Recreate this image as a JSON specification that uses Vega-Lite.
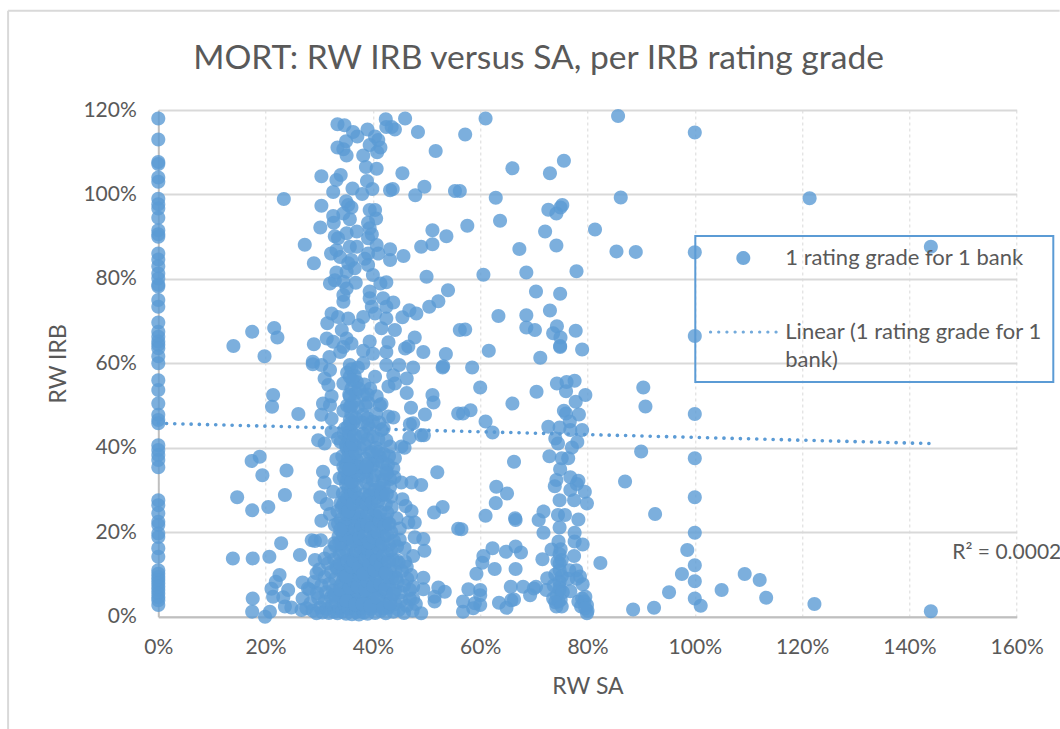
{"$schema":"https://vega.github.io/schema/vega-lite/v6.json","width":858.4,"height":506.7,"autosize":{"type":"none"},"padding":{"left":158.3,"top":110,"right":43.3,"bottom":112.3},"background":"white","config":{"font":"Lato","view":{"stroke":null},"legend":{"strokeWidth":2},"style":{"guide-label":{"lineHeight":28}}},"title":{"text":"MORT: RW IRB versus SA, per IRB rating grade","font":"Lato","fontSize":33.6,"fontWeight":"normal","color":"#595959","anchor":"start","frame":"group","dx":35,"offset":-66},"layer":[{"data":{"values":[{}]},"mark":{"type":"rule","color":"#D9D9D9","strokeWidth":2},"encoding":{"x":{"datum":-28,"type":"quantitative"},"y":{"datum":143.5,"type":"quantitative"},"y2":{"datum":-26.6}}},{"data":{"values":[{}]},"mark":{"type":"rule","color":"#D9D9D9","strokeWidth":2},"encoding":{"y":{"datum":143.5,"type":"quantitative"},"x":{"datum":-28,"type":"quantitative"},"x2":{"datum":168}}},{"data":{"values":[{"sa":0,"irb":118},{"sa":0,"irb":113},{"sa":0,"irb":107.7},{"sa":0,"irb":107.2},{"sa":0,"irb":104},{"sa":0,"irb":103},{"sa":0,"irb":99},{"sa":0,"irb":97.7},{"sa":0,"irb":96.7},{"sa":0,"irb":94.5},{"sa":0,"irb":91.5},{"sa":0,"irb":90.6},{"sa":0,"irb":90},{"sa":0,"irb":86},{"sa":0,"irb":84.6},{"sa":0,"irb":83},{"sa":0,"irb":81.3},{"sa":0,"irb":80.1},{"sa":0,"irb":78.6},{"sa":0,"irb":78.2},{"sa":0,"irb":75},{"sa":0,"irb":73.4},{"sa":0,"irb":69.7},{"sa":0,"irb":67.5},{"sa":0,"irb":66.3},{"sa":0,"irb":65.2},{"sa":0,"irb":64.4},{"sa":0,"irb":63.6},{"sa":0,"irb":61.7},{"sa":0,"irb":60},{"sa":0,"irb":56},{"sa":0,"irb":53.7},{"sa":0,"irb":50.5},{"sa":0,"irb":47.8},{"sa":0,"irb":46.6},{"sa":0,"irb":45.8},{"sa":0,"irb":40.6},{"sa":0,"irb":39.5},{"sa":0,"irb":38.3},{"sa":0,"irb":37.1},{"sa":0,"irb":35.4},{"sa":0,"irb":27.6},{"sa":0,"irb":26.4},{"sa":0,"irb":24.5},{"sa":0,"irb":22.5},{"sa":0,"irb":21.7},{"sa":0,"irb":19.7},{"sa":0,"irb":18.9},{"sa":0,"irb":16.2},{"sa":0,"irb":14.2},{"sa":0,"irb":11},{"sa":0,"irb":10.2},{"sa":0,"irb":9.4},{"sa":0,"irb":8.7},{"sa":0,"irb":7.9},{"sa":0,"irb":7.1},{"sa":0,"irb":6.3},{"sa":0,"irb":5.5},{"sa":0,"irb":4.6},{"sa":0,"irb":3.9},{"sa":0,"irb":2.8},{"sa":42.4,"irb":117.8},{"sa":46,"irb":118},{"sa":33.4,"irb":116.6},{"sa":34.7,"irb":116.4},{"sa":42.5,"irb":116},{"sa":43.5,"irb":116},{"sa":44.1,"irb":115.4},{"sa":48.4,"irb":114.8},{"sa":36.3,"irb":114.8},{"sa":39,"irb":115.4},{"sa":35,"irb":112.6},{"sa":37.1,"irb":113.7},{"sa":40.4,"irb":113.7},{"sa":41,"irb":112.9},{"sa":41.4,"irb":111.1},{"sa":39.4,"irb":111.7},{"sa":40.8,"irb":110},{"sa":51.7,"irb":110.3},{"sa":33.4,"irb":111.1},{"sa":34.5,"irb":110.7},{"sa":35.1,"irb":109.2},{"sa":38.2,"irb":109.2},{"sa":38.7,"irb":106.5},{"sa":40.7,"irb":106.1},{"sa":30.4,"irb":104.3},{"sa":34,"irb":104.6},{"sa":33.2,"irb":103.4},{"sa":45.5,"irb":105},{"sa":38.9,"irb":103.2},{"sa":49.6,"irb":101.8},{"sa":36.2,"irb":101.4},{"sa":39.9,"irb":101.3},{"sa":43.2,"irb":101},{"sa":43.7,"irb":101.3},{"sa":32.6,"irb":100.6},{"sa":38,"irb":100.1},{"sa":47.9,"irb":99.8},{"sa":55.3,"irb":100.8},{"sa":23.4,"irb":98.9},{"sa":30.4,"irb":97.3},{"sa":35,"irb":98.4},{"sa":35.4,"irb":97.5},{"sa":36,"irb":96.9},{"sa":39.4,"irb":96.3},{"sa":40.4,"irb":96.3},{"sa":40.6,"irb":94.3},{"sa":32.6,"irb":94.9},{"sa":34.5,"irb":95.5},{"sa":32.7,"irb":93.3},{"sa":35.7,"irb":94.1},{"sa":39.1,"irb":93.3},{"sa":30.2,"irb":92.2},{"sa":51.1,"irb":91.5},{"sa":53.7,"irb":90.1},{"sa":51.1,"irb":88.2},{"sa":49,"irb":87.6},{"sa":37,"irb":91.2},{"sa":32.9,"irb":90.1},{"sa":35.1,"irb":90.8},{"sa":39.4,"irb":92},{"sa":39.8,"irb":90.6},{"sa":39.1,"irb":89.6},{"sa":27.3,"irb":88.1},{"sa":33.5,"irb":89.6},{"sa":37,"irb":87.6},{"sa":35.7,"irb":87.6},{"sa":40.7,"irb":88},{"sa":43.2,"irb":87},{"sa":41,"irb":86},{"sa":33.2,"irb":86.8},{"sa":32.2,"irb":86},{"sa":33.9,"irb":85.2},{"sa":45.7,"irb":85.4},{"sa":43.2,"irb":84.5},{"sa":39.1,"irb":86},{"sa":38.5,"irb":84.8},{"sa":29,"irb":83.7},{"sa":36,"irb":84.5},{"sa":39.1,"irb":83.3},{"sa":35.4,"irb":83.7},{"sa":36.6,"irb":82.5},{"sa":33.2,"irb":81.5},{"sa":35.1,"irb":81.7},{"sa":40,"irb":80.9},{"sa":50,"irb":80.5},{"sa":32.9,"irb":79.7},{"sa":42.5,"irb":79.2},{"sa":41.4,"irb":78.9},{"sa":32,"irb":78.9},{"sa":36.8,"irb":79.1},{"sa":34.5,"irb":79.3},{"sa":54,"irb":77.3},{"sa":35.1,"irb":77.7},{"sa":39.4,"irb":77},{"sa":34.5,"irb":76.2},{"sa":52.2,"irb":74.7},{"sa":50.5,"irb":73.4},{"sa":39.4,"irb":75.4},{"sa":41.9,"irb":75.4},{"sa":43.8,"irb":74.4},{"sa":42.5,"irb":73.4},{"sa":34.5,"irb":74.6},{"sa":39.8,"irb":73.4},{"sa":46.8,"irb":72.6},{"sa":48.1,"irb":71.8},{"sa":45.5,"irb":70.9},{"sa":42.5,"irb":70.6},{"sa":32.3,"irb":71.8},{"sa":35.4,"irb":70.6},{"sa":38.2,"irb":71},{"sa":40.4,"irb":71.8},{"sa":31.5,"irb":69.5},{"sa":33.5,"irb":71},{"sa":34.2,"irb":67.9},{"sa":37.3,"irb":69},{"sa":44.1,"irb":67.9},{"sa":41.6,"irb":68.3},{"sa":17.5,"irb":67.5},{"sa":21.6,"irb":68.4},{"sa":22.2,"irb":66.1},{"sa":14,"irb":64.1},{"sa":31.4,"irb":65.9},{"sa":29,"irb":64.5},{"sa":47.8,"irb":66.1},{"sa":46.6,"irb":64},{"sa":39.4,"irb":65.2},{"sa":35.1,"irb":65.9},{"sa":34.5,"irb":63.9},{"sa":42.9,"irb":65},{"sa":38.2,"irb":63},{"sa":49.4,"irb":62.7},{"sa":53.6,"irb":62.2},{"sa":19.8,"irb":61.7},{"sa":46,"irb":63.5},{"sa":32.6,"irb":65.1},{"sa":36,"irb":64.7},{"sa":40,"irb":62.3},{"sa":42.5,"irb":62.7},{"sa":33.9,"irb":62.7},{"sa":31.9,"irb":61.5},{"sa":28.8,"irb":60.4},{"sa":56.2,"irb":67.9},{"sa":28.8,"irb":59.8},{"sa":30.4,"irb":59.6},{"sa":32,"irb":58.4},{"sa":35.7,"irb":59.6},{"sa":38.2,"irb":60},{"sa":42.5,"irb":59.6},{"sa":44.9,"irb":59.6},{"sa":47.5,"irb":59},{"sa":53,"irb":59},{"sa":53.1,"irb":59.3},{"sa":31,"irb":56.4},{"sa":31.7,"irb":54.9},{"sa":35.7,"irb":56.8},{"sa":37,"irb":55.6},{"sa":34.5,"irb":55.2},{"sa":40.4,"irb":56.8},{"sa":43.8,"irb":57.2},{"sa":46.3,"irb":56.4},{"sa":42.9,"irb":54.5},{"sa":44.1,"irb":55.2},{"sa":46.3,"irb":53},{"sa":51.1,"irb":52.5},{"sa":51.3,"irb":50.7},{"sa":21.4,"irb":52.5},{"sa":21.2,"irb":49.7},{"sa":26.1,"irb":48},{"sa":49.7,"irb":47.9},{"sa":47.1,"irb":49.5},{"sa":30.7,"irb":50.5},{"sa":32.3,"irb":52.2},{"sa":32,"irb":50.1},{"sa":40.7,"irb":52.2},{"sa":38.2,"irb":52.5},{"sa":35.7,"irb":52.2},{"sa":39.1,"irb":50.7},{"sa":41.3,"irb":50.1},{"sa":35.7,"irb":49.7},{"sa":34.5,"irb":48.8},{"sa":30.4,"irb":47.8},{"sa":32.3,"irb":46.9},{"sa":42.9,"irb":47.4},{"sa":43.8,"irb":47.2},{"sa":38.2,"irb":47.8},{"sa":35.7,"irb":46.6},{"sa":46.9,"irb":45.6},{"sa":47.5,"irb":45.8},{"sa":39.1,"irb":45.4},{"sa":55.9,"irb":48.1},{"sa":49,"irb":43},{"sa":49.5,"irb":43},{"sa":46.8,"irb":42.4},{"sa":41.6,"irb":44.2},{"sa":34.8,"irb":44.6},{"sa":32.3,"irb":43.8},{"sa":29.8,"irb":41.8},{"sa":31,"irb":41},{"sa":33.5,"irb":42.2},{"sa":38.2,"irb":43.4},{"sa":40,"irb":42.6},{"sa":42.5,"irb":41.8},{"sa":45.9,"irb":40},{"sa":45.3,"irb":40.3},{"sa":35.1,"irb":39.9},{"sa":37.6,"irb":39.9},{"sa":43.2,"irb":40.3},{"sa":39.8,"irb":39.1},{"sa":41.3,"irb":37.9},{"sa":44.1,"irb":37.5},{"sa":33.2,"irb":37.3},{"sa":35.7,"irb":37.1},{"sa":39.1,"irb":36.3},{"sa":43.8,"irb":35.1},{"sa":42.5,"irb":34.7},{"sa":38.8,"irb":34.7},{"sa":34.5,"irb":35.5},{"sa":52,"irb":34.2},{"sa":17.4,"irb":36.9},{"sa":18.9,"irb":37.9},{"sa":19.4,"irb":33.5},{"sa":23.9,"irb":34.6},{"sa":30.7,"irb":34.3},{"sa":31,"irb":31.8},{"sa":33.8,"irb":32.8},{"sa":35.7,"irb":32.8},{"sa":40.4,"irb":33.5},{"sa":38.8,"irb":33.1},{"sa":41.9,"irb":32.4},{"sa":43.2,"irb":30.8},{"sa":45.3,"irb":31.8},{"sa":47.2,"irb":31.8},{"sa":49,"irb":31.2},{"sa":32.6,"irb":29.6},{"sa":35.4,"irb":30.4},{"sa":39.4,"irb":30.4},{"sa":41.3,"irb":29.6},{"sa":14.7,"irb":28.3},{"sa":23.6,"irb":28.8},{"sa":30.2,"irb":28.3},{"sa":31.4,"irb":26.7},{"sa":34.5,"irb":26.8},{"sa":35.7,"irb":27.6},{"sa":39.4,"irb":28.8},{"sa":41.9,"irb":28.8},{"sa":45.5,"irb":27.8},{"sa":46.1,"irb":26.2},{"sa":47.2,"irb":25},{"sa":43.5,"irb":25.9},{"sa":53,"irb":26},{"sa":51.4,"irb":24.7},{"sa":20.5,"irb":26},{"sa":17.5,"irb":25.2},{"sa":32,"irb":24.3},{"sa":30.4,"irb":22.7},{"sa":44.4,"irb":23.3},{"sa":47.8,"irb":22.3},{"sa":46.6,"irb":22.3},{"sa":55.9,"irb":20.8},{"sa":33.5,"irb":22.1},{"sa":32.9,"irb":21.7},{"sa":35.7,"irb":23.7},{"sa":38.2,"irb":22.9},{"sa":40.7,"irb":23.7},{"sa":42.9,"irb":22.1},{"sa":45,"irb":20.9},{"sa":47.8,"irb":18.8},{"sa":49.4,"irb":18.4},{"sa":45,"irb":18.2},{"sa":28.6,"irb":18.1},{"sa":29.2,"irb":17.9},{"sa":30.3,"irb":18.1},{"sa":22.9,"irb":17.4},{"sa":32.8,"irb":17.4},{"sa":45.9,"irb":16.2},{"sa":49.6,"irb":15.6},{"sa":47.5,"irb":14.4},{"sa":26.4,"irb":14.6},{"sa":29.2,"irb":13.4},{"sa":13.9,"irb":13.8},{"sa":17.6,"irb":13.8},{"sa":20.7,"irb":14.2},{"sa":32,"irb":15.4},{"sa":31,"irb":13.8},{"sa":44.4,"irb":13.4},{"sa":46.3,"irb":11.8},{"sa":47.1,"irb":9.9},{"sa":49.4,"irb":9.2},{"sa":49.4,"irb":6.5},{"sa":52.2,"irb":6.9},{"sa":53.4,"irb":5.9},{"sa":51.5,"irb":4.7},{"sa":51.5,"irb":3.6},{"sa":47.5,"irb":7.1},{"sa":47.5,"irb":4.3},{"sa":49,"irb":0.8},{"sa":22.6,"irb":9.9},{"sa":21.9,"irb":8.3},{"sa":21.1,"irb":6.6},{"sa":24.2,"irb":6.3},{"sa":23.3,"irb":4.6},{"sa":23.6,"irb":2.4},{"sa":24.8,"irb":2.2},{"sa":21.4,"irb":4.7},{"sa":17.6,"irb":4.3},{"sa":17.5,"irb":1.2},{"sa":20.8,"irb":1.2},{"sa":19.9,"irb":0},{"sa":26.9,"irb":8.1},{"sa":27.9,"irb":6.7},{"sa":26.9,"irb":4.3},{"sa":26.7,"irb":1.6},{"sa":27.6,"irb":2},{"sa":29.5,"irb":10.3},{"sa":28.4,"irb":3.2},{"sa":28.8,"irb":1.4},{"sa":29.5,"irb":0.8},{"sa":29.8,"irb":4.4},{"sa":30.2,"irb":2.2},{"sa":30.6,"irb":1},{"sa":31,"irb":3.6},{"sa":31.4,"irb":1.8},{"sa":31.8,"irb":0.9},{"sa":32.2,"irb":4.6},{"sa":32.4,"irb":2.7},{"sa":32.8,"irb":1.2},{"sa":33.2,"irb":3.4},{"sa":33.4,"irb":0.8},{"sa":33.8,"irb":2},{"sa":34.1,"irb":4.4},{"sa":34.3,"irb":1.2},{"sa":34.7,"irb":3},{"sa":35,"irb":0.7},{"sa":35.2,"irb":4.8},{"sa":35.5,"irb":1.9},{"sa":35.8,"irb":3.6},{"sa":36.1,"irb":0.6},{"sa":36.4,"irb":2.6},{"sa":36.6,"irb":4.4},{"sa":36.9,"irb":1.1},{"sa":37.2,"irb":3.3},{"sa":37.4,"irb":0.5},{"sa":37.8,"irb":2},{"sa":38.1,"irb":4.2},{"sa":38.3,"irb":1},{"sa":38.7,"irb":3},{"sa":39,"irb":0.7},{"sa":39.3,"irb":4.6},{"sa":39.6,"irb":1.8},{"sa":40,"irb":3.4},{"sa":40.4,"irb":0.9},{"sa":40.8,"irb":2.6},{"sa":41.2,"irb":4.4},{"sa":41.5,"irb":1.4},{"sa":42,"irb":3.2},{"sa":42.4,"irb":0.8},{"sa":42.9,"irb":2.2},{"sa":43.3,"irb":4.2},{"sa":43.8,"irb":1.2},{"sa":44.2,"irb":3},{"sa":44.8,"irb":1.6},{"sa":45.3,"irb":3.8},{"sa":45.8,"irb":0.9},{"sa":46.3,"irb":2.6},{"sa":46.9,"irb":4.2},{"sa":47.4,"irb":1.4},{"sa":48,"irb":3},{"sa":28.2,"irb":6.4},{"sa":29,"irb":8.2},{"sa":29.6,"irb":5.6},{"sa":30.4,"irb":7.4},{"sa":31,"irb":9.4},{"sa":31.3,"irb":5.8},{"sa":31.9,"irb":7.8},{"sa":32.6,"irb":6.2},{"sa":33,"irb":9},{"sa":33.6,"irb":5.4},{"sa":34,"irb":7.4},{"sa":34.6,"irb":9.6},{"sa":34.9,"irb":6},{"sa":35.4,"irb":8.2},{"sa":35.8,"irb":5.6},{"sa":36.2,"irb":7},{"sa":36.6,"irb":9.4},{"sa":37,"irb":6},{"sa":37.5,"irb":8},{"sa":37.9,"irb":5.4},{"sa":38.3,"irb":7.4},{"sa":38.8,"irb":9.4},{"sa":39.2,"irb":6.2},{"sa":39.7,"irb":8.2},{"sa":40.2,"irb":5.6},{"sa":40.6,"irb":7.4},{"sa":41,"irb":9.6},{"sa":41.6,"irb":6.2},{"sa":42.1,"irb":8},{"sa":42.6,"irb":5.6},{"sa":43,"irb":7.2},{"sa":43.6,"irb":9.2},{"sa":44.1,"irb":6.2},{"sa":44.6,"irb":8.2},{"sa":45.2,"irb":5.8},{"sa":45.8,"irb":7.4},{"sa":46.4,"irb":9},{"sa":46.9,"irb":6.4},{"sa":30,"irb":11.2},{"sa":31.6,"irb":12.6},{"sa":32.2,"irb":10.6},{"sa":32.8,"irb":13.6},{"sa":33.3,"irb":11.4},{"sa":33.8,"irb":14.8},{"sa":34.2,"irb":10.8},{"sa":34.6,"irb":12.8},{"sa":35,"irb":15.6},{"sa":35.4,"irb":11},{"sa":35.8,"irb":13.6},{"sa":36.1,"irb":10.4},{"sa":36.5,"irb":15},{"sa":36.8,"irb":12.2},{"sa":37.2,"irb":14.2},{"sa":37.6,"irb":10.8},{"sa":38,"irb":12.8},{"sa":38.4,"irb":15.6},{"sa":38.8,"irb":11.4},{"sa":39.2,"irb":14},{"sa":39.6,"irb":10.6},{"sa":40,"irb":12.8},{"sa":40.4,"irb":15.2},{"sa":40.8,"irb":11.2},{"sa":41.2,"irb":13.6},{"sa":41.8,"irb":10.6},{"sa":42.2,"irb":12.4},{"sa":42.6,"irb":15},{"sa":43.2,"irb":11.2},{"sa":43.7,"irb":13.6},{"sa":44.2,"irb":10.8},{"sa":44.8,"irb":12.8},{"sa":45.4,"irb":10.8},{"sa":46,"irb":13},{"sa":33,"irb":16.8},{"sa":33.6,"irb":19},{"sa":34.2,"irb":17.2},{"sa":34.6,"irb":21},{"sa":35,"irb":18.4},{"sa":35.4,"irb":23},{"sa":35.8,"irb":17},{"sa":36.1,"irb":20},{"sa":36.5,"irb":22.4},{"sa":36.9,"irb":17.8},{"sa":37.3,"irb":20.6},{"sa":37.6,"irb":23.6},{"sa":38,"irb":18},{"sa":38.3,"irb":21.4},{"sa":38.7,"irb":16.8},{"sa":39,"irb":19.6},{"sa":39.4,"irb":23},{"sa":39.8,"irb":17.4},{"sa":40.2,"irb":20.4},{"sa":40.6,"irb":22.6},{"sa":41,"irb":18.4},{"sa":41.4,"irb":16.6},{"sa":41.7,"irb":21},{"sa":42.1,"irb":19},{"sa":42.5,"irb":23},{"sa":43,"irb":17},{"sa":43.4,"irb":20},{"sa":43.9,"irb":18},{"sa":44.5,"irb":16.6},{"sa":34,"irb":23},{"sa":33.4,"irb":25},{"sa":34,"irb":27},{"sa":34.4,"irb":29.2},{"sa":34.8,"irb":25.6},{"sa":35,"irb":31.4},{"sa":35.2,"irb":28},{"sa":35.5,"irb":33.6},{"sa":35.8,"irb":26.4},{"sa":36,"irb":30},{"sa":36.2,"irb":35},{"sa":36.4,"irb":32.2},{"sa":36.8,"irb":27.4},{"sa":37,"irb":37},{"sa":37.2,"irb":24.6},{"sa":35,"irb":36},{"sa":34.3,"irb":38},{"sa":35.5,"irb":39},{"sa":36.2,"irb":38.4},{"sa":36.6,"irb":40.6},{"sa":34.6,"irb":33},{"sa":37.4,"irb":33.4},{"sa":38.4,"irb":29},{"sa":38.8,"irb":31.8},{"sa":39.2,"irb":26},{"sa":39.6,"irb":35.4},{"sa":40,"irb":32.4},{"sa":40.4,"irb":28},{"sa":40.8,"irb":37},{"sa":41.2,"irb":30.6},{"sa":41.6,"irb":34},{"sa":42,"irb":38.6},{"sa":42.4,"irb":26.6},{"sa":42.8,"irb":36},{"sa":43.2,"irb":32.6},{"sa":43.4,"irb":28.4},{"sa":38.6,"irb":37.4},{"sa":39.4,"irb":38.8},{"sa":40.6,"irb":40},{"sa":44,"irb":33},{"sa":38.2,"irb":34.2},{"sa":34,"irb":41.4},{"sa":34.6,"irb":43.4},{"sa":35,"irb":40.6},{"sa":35.3,"irb":45},{"sa":35.6,"irb":42},{"sa":36,"irb":44},{"sa":36,"irb":48},{"sa":36.4,"irb":46},{"sa":36.5,"irb":51},{"sa":35.2,"irb":50},{"sa":36.8,"irb":53},{"sa":37.2,"irb":49.6},{"sa":36,"irb":54},{"sa":35.2,"irb":57.8},{"sa":36,"irb":58.6},{"sa":36.6,"irb":57},{"sa":37.2,"irb":59},{"sa":39.4,"irb":44.6},{"sa":39,"irb":47},{"sa":38.6,"irb":50},{"sa":38.4,"irb":55},{"sa":39,"irb":52.6},{"sa":39.5,"irb":54},{"sa":40,"irb":46.2},{"sa":40.6,"irb":48},{"sa":41.2,"irb":46},{"sa":41.6,"irb":50.4},{"sa":42,"irb":44.6},{"sa":39,"irb":42},{"sa":37.8,"irb":42.6},{"sa":38,"irb":46},{"sa":32.9,"irb":5.2},{"sa":33.9,"irb":6.4},{"sa":34.4,"irb":8.4},{"sa":35.1,"irb":3.7},{"sa":35.7,"irb":6.9},{"sa":36.3,"irb":8.6},{"sa":36.7,"irb":2.9},{"sa":37.2,"irb":7.1},{"sa":37.7,"irb":9.7},{"sa":38.1,"irb":3},{"sa":38.6,"irb":6.4},{"sa":39,"irb":8.4},{"sa":39.5,"irb":2.6},{"sa":40.1,"irb":7.2},{"sa":40.5,"irb":9.8},{"sa":40.9,"irb":4.4},{"sa":41.4,"irb":7.7},{"sa":41.9,"irb":2},{"sa":42.3,"irb":6.6},{"sa":42.8,"irb":9.4},{"sa":43.2,"irb":3.2},{"sa":43.8,"irb":5.4},{"sa":44.3,"irb":9.2},{"sa":33.2,"irb":11.9},{"sa":33.9,"irb":12.6},{"sa":34.4,"irb":15.4},{"sa":35,"irb":9.6},{"sa":35.3,"irb":13.2},{"sa":36,"irb":11.8},{"sa":36.4,"irb":13.2},{"sa":36.9,"irb":15.7},{"sa":37.4,"irb":11.6},{"sa":37.8,"irb":16.2},{"sa":38.2,"irb":10.2},{"sa":38.6,"irb":13.6},{"sa":39.1,"irb":16},{"sa":39.4,"irb":12.4},{"sa":39.9,"irb":14.8},{"sa":40.3,"irb":11},{"sa":40.7,"irb":13.4},{"sa":41.1,"irb":16.2},{"sa":41.5,"irb":12.2},{"sa":42,"irb":14.4},{"sa":42.4,"irb":10.4},{"sa":42.9,"irb":13.2},{"sa":43.4,"irb":15.8},{"sa":33.8,"irb":17.6},{"sa":34.4,"irb":19.4},{"sa":34.9,"irb":22},{"sa":35.3,"irb":20},{"sa":35.6,"irb":18.6},{"sa":36.3,"irb":18},{"sa":36.7,"irb":20.8},{"sa":37.1,"irb":23},{"sa":37.5,"irb":18.6},{"sa":37.9,"irb":21.6},{"sa":38.5,"irb":19.2},{"sa":38.9,"irb":22},{"sa":39.3,"irb":17.6},{"sa":39.7,"irb":21},{"sa":40.1,"irb":18.8},{"sa":40.5,"irb":24},{"sa":40.9,"irb":20},{"sa":41.3,"irb":22.8},{"sa":41.8,"irb":17.4},{"sa":42.2,"irb":21.6},{"sa":42.7,"irb":19.4},{"sa":43.1,"irb":22},{"sa":33.9,"irb":20.6},{"sa":35.1,"irb":24.4},{"sa":36.3,"irb":24.6},{"sa":37.8,"irb":25},{"sa":39,"irb":24.6},{"sa":40.2,"irb":25.4},{"sa":41.4,"irb":24.8},{"sa":42.7,"irb":24.6},{"sa":34.2,"irb":26},{"sa":34.9,"irb":28.4},{"sa":35.4,"irb":25},{"sa":35.9,"irb":28.8},{"sa":36.3,"irb":26.8},{"sa":36.6,"irb":29.6},{"sa":37,"irb":31},{"sa":37.4,"irb":28},{"sa":38,"irb":27},{"sa":38.7,"irb":26.8},{"sa":39.2,"irb":28.6},{"sa":39.8,"irb":27},{"sa":40.4,"irb":30},{"sa":41,"irb":27.4},{"sa":41.6,"irb":29},{"sa":42,"irb":31},{"sa":42.6,"irb":29},{"sa":35.2,"irb":32.6},{"sa":36,"irb":32},{"sa":36.7,"irb":34.4},{"sa":37.2,"irb":35.6},{"sa":36,"irb":36.6},{"sa":35.8,"irb":40},{"sa":36.5,"irb":36},{"sa":35.4,"irb":37.6},{"sa":34.8,"irb":34.8},{"sa":35.6,"irb":35},{"sa":36.8,"irb":38.8},{"sa":36.2,"irb":41},{"sa":35.6,"irb":43.6},{"sa":36.6,"irb":43},{"sa":35.8,"irb":45.8},{"sa":36.8,"irb":47},{"sa":36,"irb":50},{"sa":35.6,"irb":52.6},{"sa":36.2,"irb":56},{"sa":37.4,"irb":54},{"sa":38.4,"irb":40.8},{"sa":40,"irb":36},{"sa":41,"irb":39},{"sa":41.8,"irb":36.6},{"sa":42.6,"irb":34},{"sa":41,"irb":42},{"sa":43,"irb":38},{"sa":38.8,"irb":35.6},{"sa":61,"irb":118},{"sa":57.2,"irb":114.2},{"sa":85.7,"irb":118.6},{"sa":100,"irb":114.7},{"sa":66,"irb":106.2},{"sa":75.6,"irb":108},{"sa":73,"irb":105},{"sa":62.9,"irb":99.2},{"sa":86.2,"irb":99.3},{"sa":56.2,"irb":100.8},{"sa":72.7,"irb":96.4},{"sa":75.3,"irb":97.5},{"sa":74.97,"irb":96.9},{"sa":74.2,"irb":95.5},{"sa":63.7,"irb":93.8},{"sa":57.6,"irb":92.6},{"sa":72.1,"irb":91.2},{"sa":81.4,"irb":91.7},{"sa":74.2,"irb":87.9},{"sa":67.3,"irb":87.1},{"sa":85.4,"irb":86.5},{"sa":89,"irb":86.4},{"sa":100,"irb":86.3},{"sa":60.6,"irb":81},{"sa":68.6,"irb":81.5},{"sa":77.95,"irb":81.8},{"sa":70.4,"irb":77},{"sa":74.9,"irb":76.5},{"sa":73,"irb":72.5},{"sa":63.4,"irb":71.2},{"sa":68.6,"irb":71.4},{"sa":68.6,"irb":68.5},{"sa":70.2,"irb":67.9},{"sa":74.3,"irb":68.8},{"sa":73.6,"irb":67.1},{"sa":74.97,"irb":66.1},{"sa":74.9,"irb":63.9},{"sa":74.9,"irb":64.1},{"sa":77.8,"irb":67.7},{"sa":100,"irb":66.5},{"sa":57.2,"irb":68},{"sa":61.6,"irb":63},{"sa":79,"irb":63.3},{"sa":71.2,"irb":61.3},{"sa":121.4,"irb":99.1},{"sa":144,"irb":87.6},{"sa":122.3,"irb":3},{"sa":144,"irb":1.3},{"sa":58.5,"irb":59},{"sa":60,"irb":54.3},{"sa":70.5,"irb":53.3},{"sa":66,"irb":50.5},{"sa":74.3,"irb":55.2},{"sa":76.1,"irb":55.6},{"sa":77.6,"irb":55.9},{"sa":76,"irb":53.4},{"sa":79.6,"irb":52.5},{"sa":77.8,"irb":50.9},{"sa":90.4,"irb":54.3},{"sa":90.8,"irb":49.8},{"sa":100,"irb":48},{"sa":75.6,"irb":48.8},{"sa":76,"irb":48.1},{"sa":78.4,"irb":47.9},{"sa":58.2,"irb":48.9},{"sa":56.8,"irb":48.1},{"sa":61,"irb":46.2},{"sa":62.3,"irb":43.6},{"sa":76.7,"irb":46.2},{"sa":72.7,"irb":45},{"sa":74.8,"irb":44.8},{"sa":76.8,"irb":44.2},{"sa":79,"irb":44.2},{"sa":74,"irb":42.2},{"sa":74.5,"irb":41},{"sa":78.1,"irb":41.4},{"sa":77.1,"irb":40.1},{"sa":90,"irb":39.1},{"sa":100,"irb":37.5},{"sa":72.9,"irb":38},{"sa":75.2,"irb":37.5},{"sa":76.4,"irb":37.5},{"sa":74.9,"irb":34.9},{"sa":66.3,"irb":36.7},{"sa":74.2,"irb":32.4},{"sa":73.9,"irb":30.9},{"sa":76.8,"irb":33},{"sa":78.3,"irb":32.2},{"sa":78,"irb":31.4},{"sa":87,"irb":32},{"sa":63,"irb":30.8},{"sa":65,"irb":29.2},{"sa":76.8,"irb":30},{"sa":79.5,"irb":29.6},{"sa":74.8,"irb":27.6},{"sa":77.5,"irb":27.6},{"sa":79.9,"irb":26.8},{"sa":62.9,"irb":26.9},{"sa":100,"irb":28.3},{"sa":61,"irb":23.9},{"sa":66.5,"irb":23.3},{"sa":66.6,"irb":22.9},{"sa":71.8,"irb":24.9},{"sa":70.9,"irb":22.9},{"sa":92.6,"irb":24.3},{"sa":74.5,"irb":24.1},{"sa":75.8,"irb":24.1},{"sa":78.3,"irb":23},{"sa":56.5,"irb":20.7},{"sa":74.8,"irb":21.1},{"sa":71.8,"irb":19.9},{"sa":100,"irb":19.9},{"sa":77.6,"irb":19.9},{"sa":74.6,"irb":17.8},{"sa":77.6,"irb":17.8},{"sa":79.1,"irb":17.1},{"sa":98.6,"irb":15.8},{"sa":73.3,"irb":15.9},{"sa":62.3,"irb":16.2},{"sa":66.6,"irb":16.6},{"sa":64.8,"irb":15.4},{"sa":67.6,"irb":15.2},{"sa":60.6,"irb":14.4},{"sa":60.4,"irb":12.8},{"sa":77.5,"irb":14.4},{"sa":74.8,"irb":14.8},{"sa":71.6,"irb":13.6},{"sa":82.4,"irb":12.7},{"sa":100,"irb":12.2},{"sa":62.7,"irb":11.3},{"sa":66.6,"irb":11.3},{"sa":59.3,"irb":10.2},{"sa":74.8,"irb":12.6},{"sa":74.8,"irb":11},{"sa":77.9,"irb":11},{"sa":76.6,"irb":11},{"sa":97.6,"irb":10.1},{"sa":109.3,"irb":10.1},{"sa":112.1,"irb":8.7},{"sa":100,"irb":8.4},{"sa":72.5,"irb":9.1},{"sa":65.7,"irb":7.1},{"sa":68,"irb":7.1},{"sa":70,"irb":6.7},{"sa":70.4,"irb":7.1},{"sa":72.3,"irb":6.3},{"sa":95.2,"irb":5.8},{"sa":105,"irb":6.3},{"sa":78.6,"irb":9.5},{"sa":79.1,"irb":7.7},{"sa":74.8,"irb":8.3},{"sa":74.8,"irb":6.3},{"sa":57.8,"irb":6.5},{"sa":60,"irb":6.3},{"sa":60,"irb":5.1},{"sa":69.3,"irb":5.1},{"sa":113.3,"irb":4.5},{"sa":100,"irb":4.3},{"sa":101.1,"irb":2.6},{"sa":56.8,"irb":3.6},{"sa":59,"irb":3.2},{"sa":60,"irb":2.8},{"sa":63.5,"irb":3.3},{"sa":64.9,"irb":2.1},{"sa":65.8,"irb":3.9},{"sa":66.3,"irb":4.1},{"sa":73.6,"irb":4.3},{"sa":74.6,"irb":3.6},{"sa":74.2,"irb":2.4},{"sa":78.3,"irb":3.6},{"sa":79.6,"irb":4.7},{"sa":79,"irb":4.3},{"sa":79.9,"irb":0.8},{"sa":79.9,"irb":2.8},{"sa":88.5,"irb":1.7},{"sa":92.4,"irb":2.1},{"sa":56.8,"irb":1.2},{"sa":58.7,"irb":2},{"sa":74.3,"irb":5},{"sa":75,"irb":4},{"sa":74.8,"irb":7},{"sa":75.2,"irb":9.6},{"sa":74,"irb":10},{"sa":75.2,"irb":13.4},{"sa":74.4,"irb":13},{"sa":75,"irb":16},{"sa":73.7,"irb":7.4},{"sa":75.4,"irb":5.8},{"sa":74,"irb":3.4},{"sa":75.2,"irb":2.4},{"sa":79.4,"irb":3.6},{"sa":78.8,"irb":2.4},{"sa":80,"irb":1.4},{"sa":79.6,"irb":2},{"sa":78,"irb":9},{"sa":76.4,"irb":9},{"sa":76.8,"irb":6}]},"mark":{"type":"point","filled":true,"size":196,"opacity":0.8,"color":"#5B9BD5","strokeWidth":0,"clip":false},"encoding":{"x":{"field":"sa","type":"quantitative","scale":{"domain":[0,160],"nice":false},"axis":{"values":[0,20,40,60,80,100,120,140,160],"labelExpr":"datum.value+'%'","labelFlush":false,"title":"RW SA","titleFont":"Lato","titleFontSize":23,"titleFontWeight":"normal","titleColor":"#595959","titlePadding":18,"labelFont":"Lato","labelFontSize":21,"labelColor":"#595959","labelPadding":20,"ticks":false,"domainColor":"#BFBFBF","domainWidth":2,"grid":true,"gridColor":"#D9D9D9","gridDash":[3,3],"gridWidth":1}},"y":{"field":"irb","type":"quantitative","scale":{"domain":[0,120],"nice":false},"axis":{"values":[0,20,40,60,80,100,120],"labelExpr":"datum.value+'%'","labelFlush":false,"title":"RW IRB","titleFont":"Lato","titleFontSize":23,"titleFontWeight":"normal","titleColor":"#595959","titlePadding":12,"labelFont":"Lato","labelFontSize":21,"labelColor":"#595959","labelPadding":22,"ticks":false,"domainColor":"#BFBFBF","domainWidth":2,"grid":true,"gridColor":"#D9D9D9","gridWidth":2}},"shape":{"datum":"1 rating grade for 1 bank","scale":{"domain":["1 rating grade for 1 bank","Linear (1 rating grade for 1 bank)"],"range":["M-1,0A1,1,0,1,1,1,0A1,1,0,1,1,-1,0Z","M-4.91,0A0.23,0.23,0,1,1,-4.45,0A0.23,0.23,0,1,1,-4.91,0ZM-3.74,0A0.23,0.23,0,1,1,-3.28,0A0.23,0.23,0,1,1,-3.74,0ZM-2.57,0A0.23,0.23,0,1,1,-2.11,0A0.23,0.23,0,1,1,-2.57,0ZM-1.4,0A0.23,0.23,0,1,1,-0.94,0A0.23,0.23,0,1,1,-1.4,0ZM-0.23,0A0.23,0.23,0,1,1,0.23,0A0.23,0.23,0,1,1,-0.23,0ZM0.94,0A0.23,0.23,0,1,1,1.4,0A0.23,0.23,0,1,1,0.94,0ZM2.11,0A0.23,0.23,0,1,1,2.57,0A0.23,0.23,0,1,1,2.11,0ZM3.28,0A0.23,0.23,0,1,1,3.74,0A0.23,0.23,0,1,1,3.28,0ZM4.45,0A0.23,0.23,0,1,1,4.91,0A0.23,0.23,0,1,1,4.45,0Z"]},"legend":{"orient":"none","legendX":537,"legendY":126,"title":null,"padding":11,"strokeColor":"#5B9BD5","symbolSize":196,"symbolFillColor":"#5B9BD5","symbolStrokeWidth":0,"symbolOpacity":0.85,"symbolOffset":26,"labelOffset":31,"labelFont":"Lato","labelFontSize":22,"labelColor":"#595959","labelLimit":400,"rowPadding":52,"labelExpr":"datum.label==='1 rating grade for 1 bank'?datum.label:['Linear (1 rating grade for 1','bank)']"}}}},{"data":{"values":[{"sa":0,"irb":45.8},{"sa":144,"irb":41}]},"mark":{"type":"line","color":"#5B9BD5","strokeWidth":3.6,"strokeCap":"round","strokeDash":[0.1,8.1]},"encoding":{"x":{"field":"sa","type":"quantitative"},"y":{"field":"irb","type":"quantitative"}}},{"data":{"values":[{"sa":148,"irb":15,"note":"R² = 0.0002"}]},"mark":{"type":"text","align":"left","baseline":"middle","font":"Lato","fontSize":21,"color":"#595959"},"encoding":{"x":{"field":"sa","type":"quantitative"},"y":{"field":"irb","type":"quantitative"},"text":{"field":"note"}}}]}
